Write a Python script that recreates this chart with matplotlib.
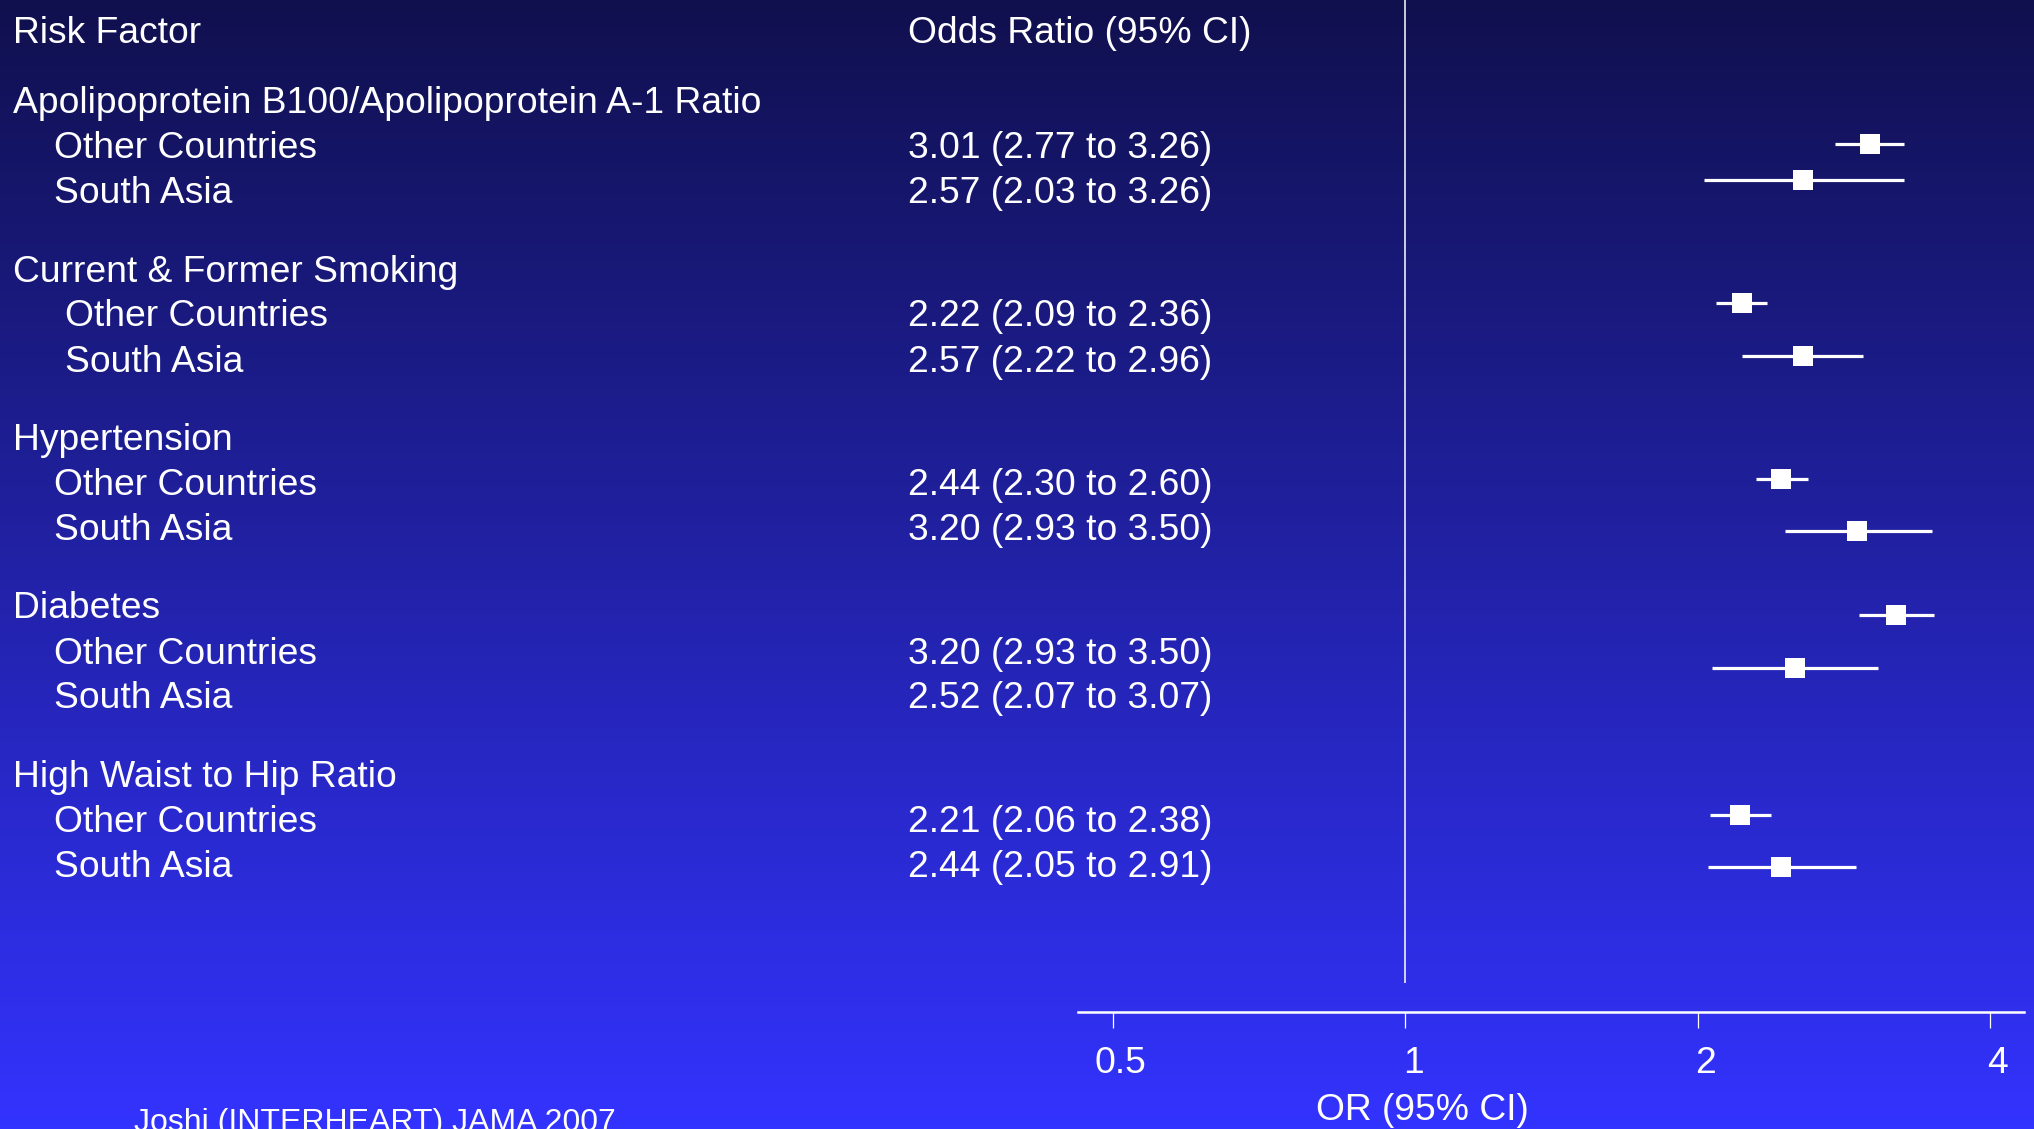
#!/usr/bin/env python3
"""Forest plot: INTERHEART risk factors, South Asia vs other countries."""

import numpy as np
import matplotlib

matplotlib.use("Agg")
import matplotlib.pyplot as plt
from matplotlib.ticker import NullLocator
from matplotlib.transforms import offset_copy

plt.rcParams["font.family"] = ["Liberation Sans", "DejaVu Sans"]

# Table contents
risk_factors = [
    "Apolipoprotein B100/Apolipoprotein A-1 Ratio",
    "Current & Former Smoking",
    "Hypertension",
    "Diabetes",
    "High Waist to Hip Ratio",
]
regions = ["Other Countries", "South Asia"]
or_text = [
    "3.01 (2.77 to 3.26)", "2.57 (2.03 to 3.26)",
    "2.22 (2.09 to 2.36)", "2.57 (2.22 to 2.96)",
    "2.44 (2.30 to 2.60)", "3.20 (2.93 to 3.50)",
    "3.20 (2.93 to 3.50)", "2.52 (2.07 to 3.07)",
    "2.21 (2.06 to 2.38)", "2.44 (2.05 to 2.91)",
]

# Plotted estimates and 95% CI (one per region within each factor)
odds_ratio = [3.01, 2.57, 2.22, 2.57, 2.44, 2.92, 3.20, 2.52, 2.21, 2.44]
ci_low = [2.77, 2.03, 2.09, 2.22, 2.30, 2.46, 2.93, 2.07, 2.06, 2.05]
ci_high = [3.26, 3.26, 2.36, 2.96, 2.60, 3.49, 3.50, 3.07, 2.38, 2.91]

axis_ticks = [0.5, 1, 2, 4]
tick_labels = ["0.5", "1", "2", "4"]

# Layout (pixels from the top of the canvas)
W, H = 2034, 1129
FS = 26.8
header_y0, group_step, sub_step = 113, 168.5, 45
marker_y = [144, 180, 303, 356, 479, 531, 615, 668, 815, 867]


def main():
    fig = plt.figure(figsize=(W / 100, H / 100), dpi=100)

    # Background gradient, also used as a pixel canvas for the text columns
    bg = fig.add_axes([0, 0, 1, 1])
    bg.set_xlim(0, W)
    bg.set_ylim(H, 0)
    bg.axis("off")
    top = np.array([16, 16, 78]) / 255
    bottom = np.array([51, 51, 255]) / 255
    t = np.linspace(0, 1, 256)[:, None, None]
    grad = top + (bottom - top) * t
    grad = np.repeat(grad, 2, axis=1)
    bg.imshow(grad, extent=(0, W, H, 0), aspect="auto", zorder=0)

    txt = dict(color="white", fontsize=FS, va="baseline")
    bg.text(13, 43, "Risk Factor", **txt)
    bg.text(908, 43, "Odds Ratio (95% CI)", **txt)

    for g, factor in enumerate(risk_factors):
        y = header_y0 + g * group_step
        bg.text(13, y, factor, **txt)
        indent = 65 if g == 1 else 54
        for r, region in enumerate(regions):
            yy = y + (r + 1) * sub_step
            bg.text(indent, yy, region, **txt)
            bg.text(908, yy, or_text[2 * g + r], **txt)

    # Forest panel on a log scale
    ax_bottom_px = 1012
    left_px, right_px = 1078, 2024
    one_px, per_doubling = 1405, 292.5
    ax = fig.add_axes([left_px / W, 1 - ax_bottom_px / H,
                       (right_px - left_px) / W, ax_bottom_px / H])
    ax.patch.set_visible(False)
    ax.set_xscale("log")
    ax.set_xlim(2 ** ((left_px - one_px) / per_doubling),
                2 ** ((right_px - one_px) / per_doubling))
    ax.set_ylim(ax_bottom_px, 0)
    for side in ["top", "left", "right"]:
        ax.spines[side].set_visible(False)
    ax.spines["bottom"].set_color("white")
    ax.spines["bottom"].set_linewidth(1.8)
    ax.set_yticks([])
    ax.xaxis.set_minor_locator(NullLocator())
    ax.set_xticks(axis_ticks, labels=[""] * len(axis_ticks))
    ax.tick_params(axis="x", direction="out", length=11.5, width=0.9,
                   color="white")

    ax.vlines(1, 0, 983, color="white", linewidth=1.1)

    for i in range(len(odds_ratio)):
        ax.hlines(marker_y[i], ci_low[i], ci_high[i], color="white",
                  linewidth=2.3, zorder=3)
        size = 15.0 if i % 2 == 0 else 14.0
        ax.plot(odds_ratio[i], marker_y[i], marker="s", markersize=size,
                color="white", markeredgewidth=0, zorder=4)

    shifted = offset_copy(ax.transData, fig=fig, x=8, y=0, units="dots")
    for v, lab in zip(axis_ticks, tick_labels):
        ax.text(v, 1073, lab, transform=shifted, ha="center", va="baseline",
                color="white", fontsize=FS, clip_on=False)

    bg.text(1422, 1120, "OR (95% CI)", color="white", fontsize=FS,
            ha="center", va="baseline")
    bg.text(134, 1131, "Joshi (INTERHEART) JAMA 2007", color="white",
            fontsize=23, va="baseline")

    fig.savefig("out.png", dpi=100)


if __name__ == "__main__":
    main()
